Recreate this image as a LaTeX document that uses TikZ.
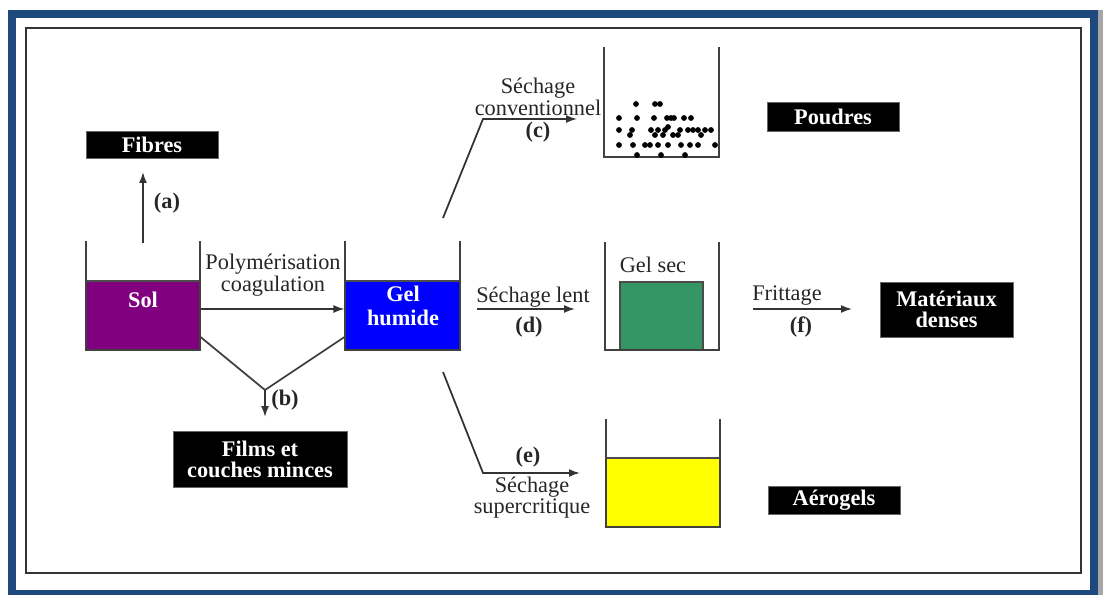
\documentclass[tikz,border=0pt]{standalone}
\usepackage{fontspec}
\setmainfont{Liberation Serif}
\usetikzlibrary{arrows.meta,positioning,calc}
\definecolor{frameblue}{RGB}{31,73,125}
\definecolor{solpurple}{RGB}{128,0,128}
\definecolor{gelblue}{RGB}{0,0,255}
\definecolor{secgreen}{RGB}{51,150,100}
\definecolor{aeroyellow}{RGB}{255,255,0}

\begin{document}
\begin{tikzpicture}[x=0.02cm,y=-0.02cm,>={Latex[length=2.2mm,width=1.6mm]},
  every node/.style={inner sep=0pt,text=black!85,align=center,font=\fontsize{12.7}{11}\selectfont},
  blackbox/.style={fill=black,draw=black!60,text=white,font=\bfseries\fontsize{12.7}{12}\selectfont},
  liquid/.style={draw=black!70,line width=0.6pt},
  wall/.style={black!75,line width=1pt},
  flow/.style={->,black!80,line width=1pt},
  tag/.style={font=\bfseries\fontsize{12.7}{11}\selectfont},
  intxt/.style={text=white,font=\bfseries\fontsize{12.7}{13.6}\selectfont}]
\useasboundingbox (0,0) rectangle (1103,595);

% frame
\draw [frameblue,line width=0.16cm] (12,14) rectangle (1094,594);
\fill [black!35] (1098,10) rectangle (1103,595);
\draw [black!80,line width=0.6pt] (26,28) rectangle (1081,573);

% sol
\node [liquid,fill=solpurple,minimum width=2.28cm,minimum height=1.38cm] (sol) at (143,315.5) {};
\draw [wall] (86,241) |- (200,350) -- (200,241);
\node [intxt] (soltxt) at (143,300) {Sol};

% gel humide
\node [liquid,fill=gelblue,minimum width=2.30cm,minimum height=1.38cm] (gelh) at (402.5,315.5) {};
\draw [wall] (345,241) |- (460,350) -- (460,241);
\node [intxt] (gelhtxt) at (403,306) {Gel\\humide};

% fibres
\node [blackbox,minimum width=2.64cm,minimum height=0.54cm] (fibres) at (152,144.5) {Fibres};
\coordinate (amouth) at (143,243);
\coordinate (atip) at (143,172);
\draw [flow] (amouth) -- (atip);
\node [tag] (atag) at (167,203) {(a)};

\draw [flow] ([yshift=0.13cm]sol.east) -- ([yshift=0.13cm]gelh.west);
\node (polym) at (273,275) {Polymérisation\\coagulation};

% films
\node [blackbox,minimum width=3.48cm,minimum height=1.12cm] (films) at (260,459) {Films et\\couches minces};
\coordinate (bjoin) at (265,390);
\coordinate (btip) at (265,417);
\draw [wall] ([yshift=-0.43cm]sol.east) -- (bjoin) -- ([yshift=-0.43cm]gelh.west);
\draw [flow] (bjoin) -- (btip);
\node [tag] (btag) at (285,400) {(b)};

% poudres
\draw [wall] (604,47) |- (719,157) -- (719,47);
\foreach \x/\y in {636/104,655/104,660/104,
  619/118,637/118,654/118,667/118,671/118,674/118,684/118,691/118,
  619/130,632/130,651/130,658/130,665/130,668/127,680/130,688/130,693/130,698/130,705/130,711/130,
  630/135,655/135,663/135,673/135,678/135,701/135,
  619/145,633/145,645/145,650/145,658/145,668/145,681/145,690/145,698/145,715/145,
  637/155,661/155,685/155}
  \fill (\x,\y) circle (2.9);
\node [blackbox,minimum width=2.64cm,minimum height=0.58cm] (poudres) at (833,116.5) {Poudres};
\coordinate (cstart) at (443,218);
\coordinate (cbend) at (483,119);
\coordinate (ctip) at (577,119);
\draw [flow] (cstart) -- (cbend) -- (ctip);
\node (csech) at (538,97) {Séchage\\conventionnel};
\node [tag] (ctag) at (538,132) {(c)};

% gel sec
\node [liquid,fill=secgreen,minimum width=1.66cm,minimum height=1.36cm] (gelsec) at (661.5,316) {};
\draw [wall] (605,242) |- (719,350) -- (719,242);
\node (gelsectxt) at (653,265) {Gel sec};
\coordinate (dstart) at (477,309);
\coordinate (dtip) at (575,309);
\draw [flow] (dstart) -- (dtip);
\node (dsech) at (533,297) {Séchage lent};
\node [tag] (dtag) at (529,327) {(d)};

% materiaux denses
\node [blackbox,minimum width=2.66cm,minimum height=1.10cm] (materiaux) at (946.5,309.5) {Matériaux\\denses};
\coordinate (fstart) at (753,309);
\coordinate (ftip) at (852,309);
\draw [flow] (fstart) -- (ftip);
\node (frit) at (787,296) {Frittage};
\node [tag] (ftag) at (801,327) {(f)};

% aerogels
\node [liquid,fill=aeroyellow,minimum width=2.28cm,minimum height=1.38cm] (aero) at (663,492.5) {};
\draw [wall] (606,419) |- (720,527) -- (720,419);
\node [blackbox,minimum width=2.64cm,minimum height=0.56cm] (aerogels) at (834,500) {Aérogels};
\coordinate (estart) at (443,372);
\coordinate (ebend) at (483,473);
\coordinate (etip) at (580,473);
\draw [flow] (estart) -- (ebend) -- (etip);
\node [tag] (etag) at (528,457) {(e)};
\node (esech) at (532,497.5) {Séchage\\supercritique};

\end{tikzpicture}
\end{document}
